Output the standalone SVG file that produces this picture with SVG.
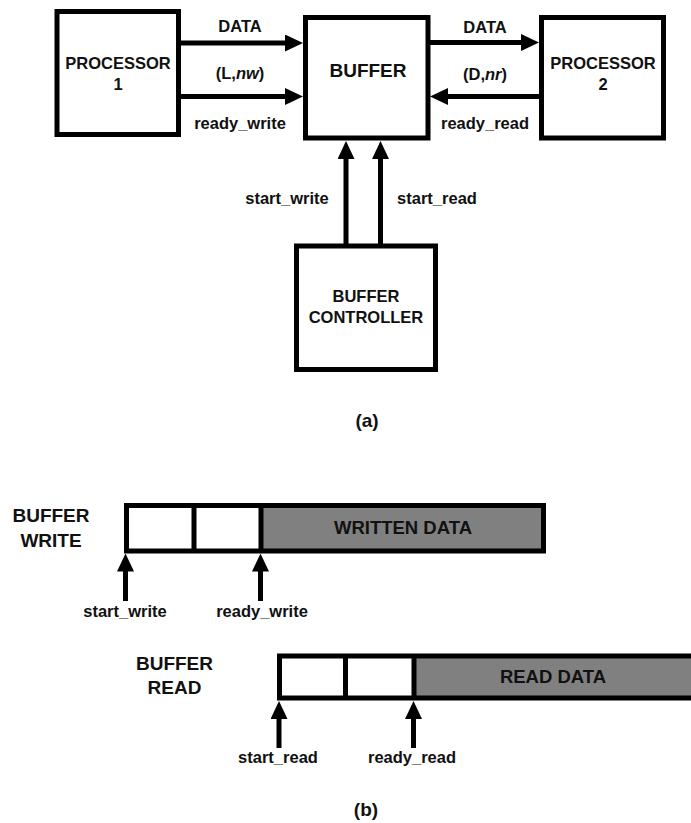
<svg xmlns="http://www.w3.org/2000/svg" width="691" height="823" viewBox="0 0 691 823">
<style>
text{font-family:"Liberation Sans",Arial,Helvetica,sans-serif;font-weight:bold;fill:#111;text-anchor:middle}
.box{fill:#fff;stroke:#000;stroke-width:5}
.wire{fill:none;stroke:#000;stroke-width:5}
.lbl{font-size:16.5px}
.big{font-size:19px}
.bar{stroke:#000;stroke-width:5}
.gray{fill:#808080}
.white{fill:#fff}
</style>
<defs>
<marker id="ah" markerUnits="userSpaceOnUse" markerWidth="18" markerHeight="17" refX="8" refY="8.5" orient="auto" viewBox="0 0 18 17">
<path d="M0,0 L18,8.5 L0,17 z" fill="#000"/>
</marker>
</defs>
<rect width="691" height="823" fill="#fff"/>

<g id="processor1">
<rect class="box" x="57" y="11.5" width="121.5" height="123"/>
<text class="lbl" x="118" y="69">PROCESSOR</text>
<text class="lbl" x="118" y="90">1</text>
</g>
<g id="buffer">
<rect class="box" x="305.5" y="17.5" width="122.5" height="120.5"/>
<text class="big" x="368" y="77">BUFFER</text>
</g>
<g id="processor2">
<rect class="box" x="541.5" y="17.5" width="122" height="120.5"/>
<text class="lbl" x="603" y="69">PROCESSOR</text>
<text class="lbl" x="603" y="90">2</text>
</g>
<g id="buffer_controller">
<rect class="box" x="296.5" y="246" width="139" height="123.5"/>
<text class="lbl" x="366" y="302">BUFFER</text>
<text class="lbl" x="366" y="323">CONTROLLER</text>
</g>

<g id="connectors">
<line class="wire" x1="180" y1="43" x2="293" y2="43" marker-end="url(#ah)"/>
<line class="wire" x1="180" y1="96.5" x2="293" y2="96.5" marker-end="url(#ah)"/>
<line class="wire" x1="429" y1="42.5" x2="529" y2="42.5" marker-end="url(#ah)"/>
<line class="wire" x1="540" y1="96.5" x2="440" y2="96.5" marker-end="url(#ah)"/>
<line class="wire" x1="346" y1="244" x2="346" y2="151" marker-end="url(#ah)"/>
<line class="wire" x1="380.5" y1="244" x2="380.5" y2="151" marker-end="url(#ah)"/>
</g>

<g id="labels_a">
<text class="lbl" x="240" y="32">DATA</text>
<text class="lbl" x="240" y="79">(L,<tspan font-style="italic">nw</tspan>)</text>
<text class="lbl" x="240" y="129">ready_write</text>
<text class="lbl" x="485" y="33">DATA</text>
<text class="lbl" x="485" y="80">(D,<tspan font-style="italic">nr</tspan>)</text>
<text class="lbl" x="485" y="129">ready_read</text>
<text class="lbl" x="287" y="204">start_write</text>
<text class="lbl" x="437" y="204">start_read</text>
<text class="big" x="367" y="427">(a)</text>
</g>

<g id="buffer_write">
<text class="big" x="51" y="522">BUFFER</text>
<text class="big" x="51" y="547">WRITE</text>
<rect class="white" x="126.5" y="505.5" width="134.5" height="45.5"/>
<rect class="gray" x="261" y="505.5" width="282.5" height="45.5"/>
<rect fill="none" class="bar" x="126.5" y="505.5" width="417" height="45.5"/>
<line class="bar" x1="194" y1="505.5" x2="194" y2="551"/>
<line class="bar" x1="261" y1="505.5" x2="261" y2="551"/>
<text font-size="18.5px" x="403" y="534">WRITTEN DATA</text>
</g>
<g id="write_pointers">
<line class="wire" x1="125.5" y1="601" x2="125.5" y2="563.5" marker-end="url(#ah)"/>
<line class="wire" x1="260.5" y1="601" x2="260.5" y2="563.5" marker-end="url(#ah)"/>
<text class="lbl" x="125" y="617">start_write</text>
<text class="lbl" x="262" y="617">ready_write</text>
</g>

<g id="buffer_read">
<text class="big" x="174.5" y="670">BUFFER</text>
<text class="big" x="174.5" y="694">READ</text>
<rect class="white" x="279.5" y="656" width="134.5" height="42"/>
<rect class="gray" x="414" y="656" width="290" height="42"/>
<rect fill="none" class="bar" x="279.5" y="656" width="424" height="42"/>
<line class="bar" x1="345.5" y1="656" x2="345.5" y2="698"/>
<line class="bar" x1="414" y1="656" x2="414" y2="698"/>
<text font-size="18.5px" x="553" y="683">READ DATA</text>
</g>
<g id="read_pointers">
<line class="wire" x1="279" y1="748" x2="279" y2="711" marker-end="url(#ah)"/>
<line class="wire" x1="413.5" y1="748" x2="413.5" y2="711" marker-end="url(#ah)"/>
<text class="lbl" x="278" y="763">start_read</text>
<text class="lbl" x="412" y="763">ready_read</text>
</g>
<text class="big" x="366" y="816">(b)</text>
</svg>
